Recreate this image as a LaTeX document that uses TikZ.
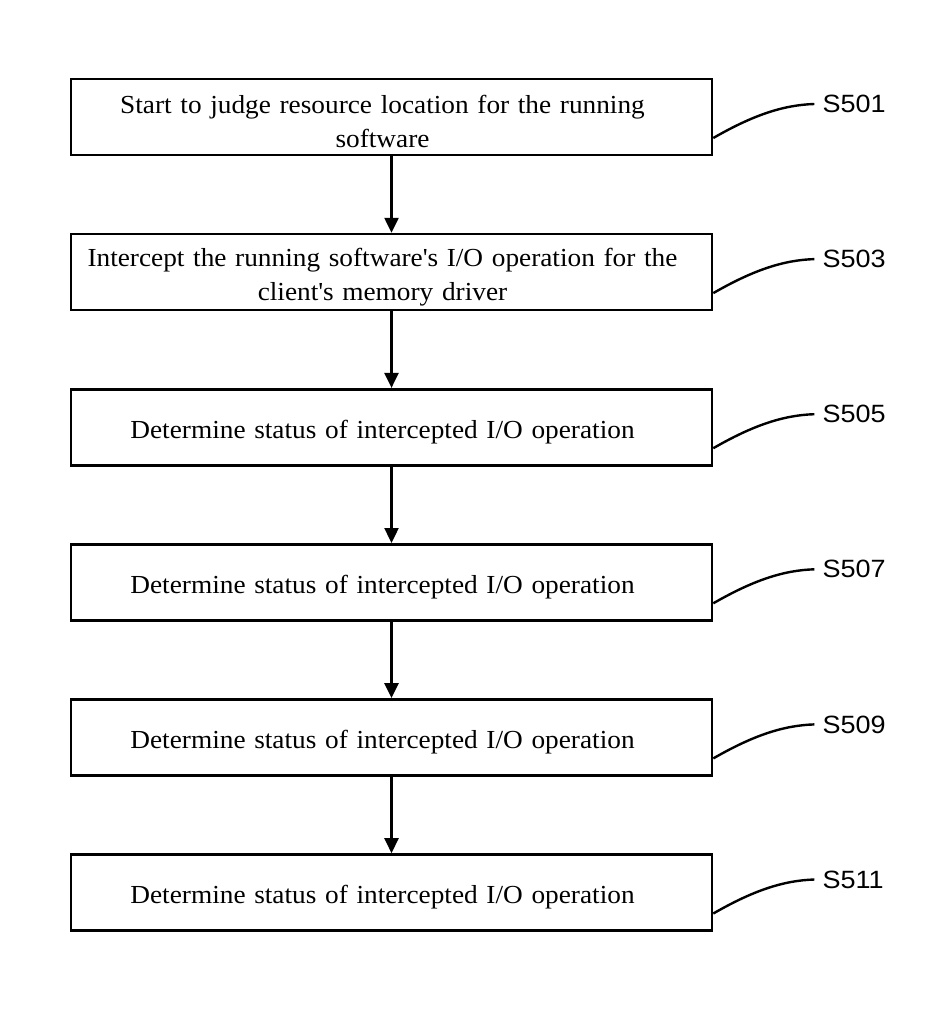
\documentclass[tikz,border=0pt]{standalone}
\usepackage{fontspec}
\setmainfont{Liberation Serif}[FakeStretch=1.05]
\setsansfont{Liberation Sans}[FakeStretch=1.08]
\usetikzlibrary{arrows.meta, positioning, calc}
\tikzset{rect/.style = {
  rectangle, draw,
  line width=2.6pt,
  minimum width=641pt, minimum height=76pt,
  text width=630pt, align=center,
  inner sep=0pt,
  execute at begin node={\rule{0pt}{28pt}\advance\rightskip by 18pt},
  font=\fontsize{26}{34}\selectfont
  }}
\tikzset{arrow/.style = {
  -{Triangle[length=15pt,width=14pt]},
  line width=2.4pt
  }}
\tikzset{tag/.style = {
  anchor=west, inner sep=0pt, inner xsep=8pt,
  font=\sffamily\fontsize{25}{30}\selectfont
  }}
\tikzset{link/.style = {line width=2.4pt}}

\begin{document}
\begin{tikzpicture}[x=1pt, y=-1pt]
\useasboundingbox (0,0) rectangle (946,1032);

	% Steps
    \node (step1) [rect] at (391.5,117) {Start to judge resource location for the running\\software};
    \node (step2) [rect, below=76.5pt of step1] {Intercept the running software\textquotesingle s I/O operation for the\\client\textquotesingle s memory driver};
    \node (step3) [rect, below=76.5pt of step2] {Determine status of intercepted I/O operation};
    \node (step4) [rect, below=76.5pt of step3] {Determine status of intercepted I/O operation};
    \node (step5) [rect, below=76.5pt of step4] {Determine status of intercepted I/O operation};
    \node (step6) [rect, below=76.5pt of step5] {Determine status of intercepted I/O operation};

	% Arrows
    \foreach \a/\b in {1/2,2/3,3/4,4/5,5/6}
    {   \draw [arrow] (step\a) -- (step\b);
    }

	% Step labels
    \foreach \i/\n in {1/501,2/503,3/505,4/507,5/509,6/511}
    {   \node (s\n) [tag] at ($(step\i.east)+(101,-13)$) {S\n};
    	\draw [link] ($(step\i.east)+(0,21)$) .. controls ($(step\i.east)+(40,-2)$) and ($(step\i.east)+(70,-12)$) .. (s\n.west);
    }

\end{tikzpicture}
\end{document}
